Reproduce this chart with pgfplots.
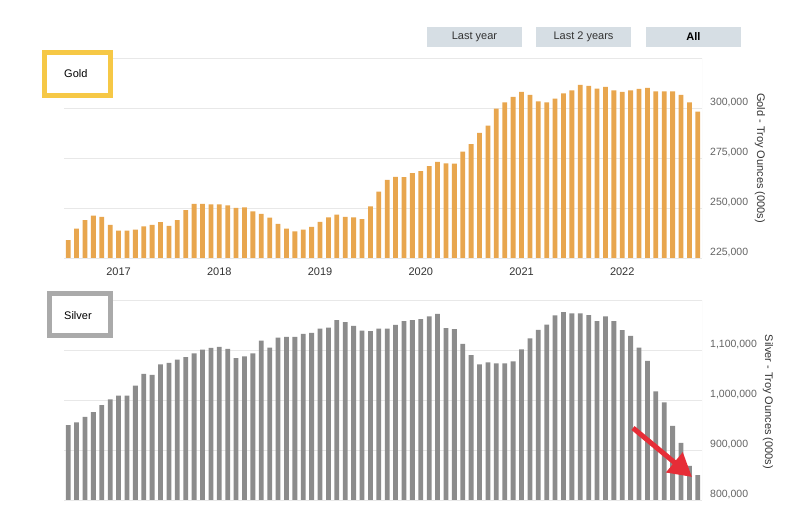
\documentclass[border=0pt]{standalone}
\usepackage{pgfplots}
\pgfplotsset{compat=1.18}
\usepackage{pgfplotstable}
\usepackage{fontspec}
\setmainfont{Liberation Sans}
\usetikzlibrary{arrows.meta}
\definecolor{goldbar}{RGB}{232,166,78}
\definecolor{silverbar}{RGB}{140,140,140}
\definecolor{gridc}{RGB}{232,232,232}
\definecolor{btn}{RGB}{214,222,228}
\definecolor{goldbox}{RGB}{246,200,70}
\definecolor{silverbox}{RGB}{170,170,170}
\definecolor{arrowred}{RGB}{230,45,55}
\definecolor{ticktext}{RGB}{100,100,100}
\definecolor{darktext}{RGB}{51,51,51}

\pgfplotstableread{
x y
0 233900
1 239700
2 243900
3 246200
4 245600
5 241500
6 238700
7 238700
8 239200
9 240800
10 241500
11 242900
12 241000
13 243900
14 248900
15 252000
16 252100
17 251800
18 251800
19 251300
20 250100
21 250300
22 248300
23 247100
24 245200
25 242000
26 239700
27 238300
28 239200
29 240500
30 243000
31 245300
32 246700
33 245600
34 245300
35 244400
36 250800
37 258200
38 264100
39 265600
40 265400
41 267400
42 268400
43 270900
44 273000
45 272300
46 272200
47 278200
48 281900
49 287500
50 291200
51 299700
52 302800
53 305500
54 308000
55 306500
56 303300
57 302800
58 304700
59 307300
60 308800
61 311500
62 311000
63 309700
64 310500
65 308800
66 308000
67 308800
68 309500
69 310000
70 308300
71 308300
72 308300
73 306500
74 302800
75 298200
}\golddata

\pgfplotstableread{
x y
0 949600
1 955000
2 966400
3 975800
4 989900
5 1001300
6 1008700
7 1008700
8 1028800
9 1052300
10 1050300
11 1071100
12 1074400
13 1080500
14 1085800
15 1093200
16 1100600
17 1104000
18 1106000
19 1102000
20 1083800
21 1087200
22 1093200
23 1118700
24 1104600
25 1124800
26 1126100
27 1126100
28 1132100
29 1134200
30 1142900
31 1144900
32 1159700
33 1155600
34 1148200
35 1138900
36 1137500
37 1142900
38 1142900
39 1150300
40 1157600
41 1159700
42 1161700
43 1167000
44 1172400
45 1143600
46 1141500
47 1112000
48 1089900
49 1071100
50 1075100
51 1073100
52 1073100
53 1077100
54 1101300
55 1123400
56 1140200
57 1150900
58 1169100
59 1175800
60 1173100
61 1173100
62 1169700
63 1157600
64 1167000
65 1157600
66 1139500
67 1128100
68 1104600
69 1078400
70 1017400
71 995300
72 948300
73 914100
74 868000
75 849700
}\silverdata

\pgfplotsset{
  commonstyle/.style={
    scale only axis,
    width=638pt, height=200pt,
    xmin=-0.5, xmax=75.5,
    axis line style={draw=none},
    major tick length=0pt,
    scaled y ticks=false,
    ymajorgrids,
    major grid style={gridc, line width=0.8pt},
    yticklabel pos=right,
    y tick label style={anchor=west, inner sep=0pt, xshift=8pt, yshift=5pt,
      font=\fontsize{10.5}{12}\selectfont, text=ticktext},
    /pgf/number format/assume math mode=true,
    ybar, bar width=4.8pt,
    clip=true,
  }
}

\begin{document}
\begin{tikzpicture}[x=1pt,y=1pt]
\path[use as bounding box, fill=white] (0,0) rectangle (800,529);

% Gold chart
\begin{axis}[commonstyle,
  at={(64pt,271pt)}, anchor=south west,
  ymin=225000, ymax=325000,
  ytick={225000,250000,275000,300000,325000},
  yticklabels={{225,000},{250,000},{275,000},{300,000},{}},
  xtick={6,18,30,42,54,66},
  xticklabels={2017,2018,2019,2020,2021,2022},
  x tick label style={anchor=center, inner sep=0pt, yshift=-14pt,
    font=\fontsize{11}{13}\selectfont, text=darktext},
]
\addplot[fill=goldbar, draw=none] table[x=x, y=y] {\golddata};
\draw[gridc, line width=0.8pt] (rel axis cs:1,0) -- (rel axis cs:1,1);
\end{axis}

% Silver chart
\begin{axis}[commonstyle,
  at={(64pt,29pt)}, anchor=south west,
  ymin=800000, ymax=1200000,
  ytick={800000,900000,1000000,1100000,1200000},
  yticklabels={{800,000},{900,000},{1,000,000},{1,100,000},{}},
  xtick=\empty,
]
\addplot[fill=silverbar, draw=none] table[x=x, y=y] {\silverdata};
\draw[gridc, line width=0.8pt] (rel axis cs:1,0) -- (rel axis cs:1,1);
\end{axis}

% axis titles (right side, reading top to bottom)
\node[rotate=-90, font=\fontsize{11}{13}\selectfont, text=darktext] at (760,371) {Gold - Troy Ounces (000s)};
\node[rotate=-90, font=\fontsize{11}{13}\selectfont, text=darktext] at (768,127) {Silver - Troy Ounces (000s)};

% range buttons
\fill[btn] (427,502) rectangle (522,482);
\fill[btn] (536,502) rectangle (631,482);
\fill[btn] (646,502) rectangle (741,482);
\node[font=\fontsize{11}{13}\selectfont, text=darktext] at (474.5,492) {Last year};
\node[font=\fontsize{11}{13}\selectfont, text=darktext] at (583.5,492) {Last 2 years};
\node[font=\fontsize{11}{13}\selectfont, text=black] at (693.5,492) {\textbf{All}};

% series boxes
\draw[goldbox, line width=5pt, fill=white] (44.5,476.5) rectangle (110.5,433.5);
\node[anchor=west, inner sep=0pt, font=\fontsize{11}{13}\selectfont, text=black] at (64,455) {Gold};
\draw[silverbox, line width=5pt, fill=white] (49.5,235.5) rectangle (110.5,193.5);
\node[anchor=west, inner sep=0pt, font=\fontsize{11}{13}\selectfont, text=black] at (64,213) {Silver};

% red arrow annotation
\draw[arrowred, line width=5pt, -{Triangle[length=23pt,width=25pt]}] (633,101) -- (692,52);
\end{tikzpicture}
\end{document}
